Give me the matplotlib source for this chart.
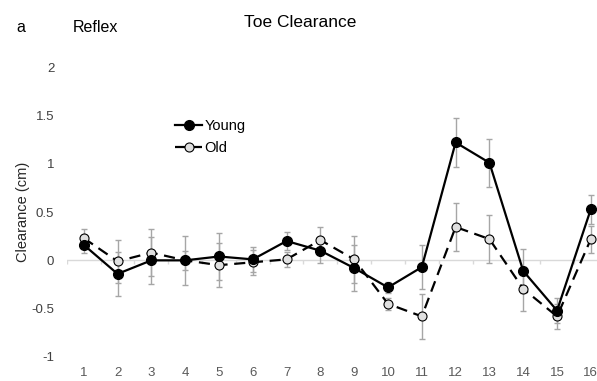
import numpy as np
import matplotlib
matplotlib.use("Agg")
import matplotlib.pyplot as plt

plt.rcParams['font.family'] = ['Liberation Sans', 'DejaVu Sans']

# category positions along the gait cycle
steps = list(range(1, 17))
step_labels = [str(s) for s in steps]

young = [0.16, -0.14, 0.0, 0.0, 0.04, 0.01, 0.20, 0.10, -0.08, -0.28,
         -0.07, 1.22, 1.01, -0.11, -0.52, 0.53]
young_err = [0.08, 0.23, 0.24, 0.25, 0.24, 0.13, 0.09, 0.13, 0.24, 0.06,
             0.23, 0.25, 0.25, 0.23, 0.13, 0.15]
old = [0.23, -0.01, 0.08, 0.0, -0.05, -0.02, 0.01, 0.21, 0.01, -0.45,
       -0.58, 0.345, 0.22, -0.295, -0.58, 0.22]
old_err = [0.09, 0.22, 0.24, 0.10, 0.23, 0.13, 0.08, 0.13, 0.24, 0.06,
           0.23, 0.245, 0.25, 0.23, 0.13, 0.14]

y_ticks = [-1, -0.5, 0, 0.5, 1, 1.5, 2]
y_tick_labels = ['-1', '-0.5', '0', '0.5', '1', '1.5', '2']

fig = plt.figure(figsize=(5.97, 3.81), dpi=100)
ax = fig.add_axes([0.112, 0.063, 0.906, 0.761])

err_col = '#a6a6a6'
ax.errorbar(steps, young, yerr=young_err, fmt='none', ecolor=err_col,
            elinewidth=1, capsize=2.5, capthick=1, zorder=2)
ax.errorbar(steps, old, yerr=old_err, fmt='none', ecolor=err_col,
            elinewidth=1, capsize=2.5, capthick=1, zorder=2)

# zero axis line with boundary tick marks
ax.axhline(0, color='#d9d9d9', lw=1, zorder=1)
bounds = np.arange(0.5, 17, 1)
ax.vlines(bounds, -0.035, 0, color='#d9d9d9', lw=1, zorder=1)

ax.plot(steps, old, color='black', lw=1.6, ls=(0, (5, 3)), marker='o',
        ms=6.5, mfc='#e0e0e0', mec='black', mew=0.8, label='Old', zorder=3)
ax.plot(steps, young, color='black', lw=1.6, marker='o', ms=7,
        mfc='black', mec='black', label='Young', zorder=4)

ax.set_xlim(0.5, 16.5)
ax.set_ylim(-1, 2)
ax.set_xticks(steps)
ax.set_xticklabels(step_labels, color='#595959', fontsize=9.5)
ax.set_yticks(y_ticks)
ax.set_yticklabels(y_tick_labels, color='#404040', fontsize=9.5)
ax.tick_params(axis='x', length=0, pad=7)
ax.tick_params(axis='y', length=0, pad=9)
for s in ax.spines.values():
    s.set_visible(False)

ax.set_ylabel('Clearance (cm)', fontsize=10.5, color='#262626', labelpad=1)

handles, labels = ax.get_legend_handles_labels()
leg = ax.legend(handles[::-1], labels[::-1], loc='upper left',
                bbox_to_anchor=(0.19, 0.842), frameon=False, fontsize=10.5,
                handlelength=1.8, handletextpad=0.2, labelspacing=0.55,
                borderaxespad=0)

fig.text(0.502, 0.94, 'Toe Clearance', ha='center', va='center', fontsize=12.5)
fig.text(0.122, 0.928, 'Reflex', ha='left', va='center', fontsize=11.5)
fig.text(0.028, 0.928, 'a', ha='left', va='center', fontsize=11.5)

fig.savefig('out.png', dpi=100)
